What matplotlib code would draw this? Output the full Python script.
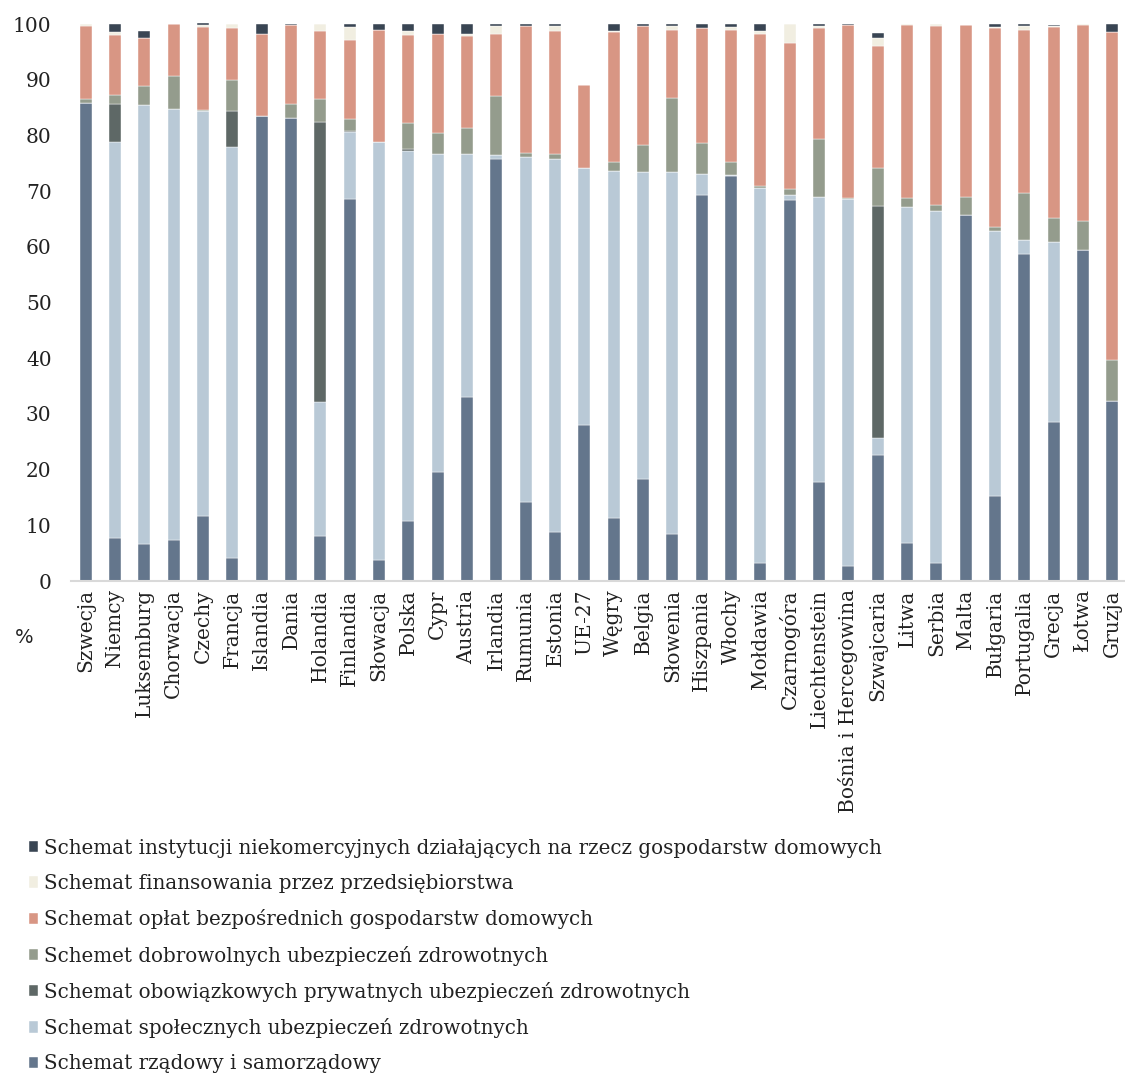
import matplotlib
matplotlib.use("Agg")
import matplotlib.pyplot as plt
import numpy as np

countries = ["Szwecja", "Niemcy", "Luksemburg", "Chorwacja", "Czechy", "Francja",
             "Islandia", "Dania", "Holandia", "Finlandia", "Słowacja", "Polska",
             "Cypr", "Austria", "Irlandia", "Rumunia", "Estonia", "UE-27", "Węgry",
             "Belgia", "Słowenia", "Hiszpania", "Włochy", "Mołdawia", "Czarnogóra",
             "Liechtenstein", "Bośnia i Hercegowina", "Szwajcaria", "Litwa", "Serbia",
             "Malta", "Bułgaria", "Portugalia", "Grecja", "Łotwa", "Gruzja"]

# Shares of health expenditure by financing scheme (%)
rzadowy = [85.9, 7.7, 6.7, 7.3, 11.6, 4.2, 83.5, 83.2, 8.0, 68.6, 3.8, 10.8,
           19.6, 33.0, 75.8, 14.1, 8.8, 28.1, 11.4, 18.3, 8.5, 69.3, 72.7, 3.3,
           68.4, 17.8, 2.7, 22.7, 6.9, 3.2, 65.7, 15.2, 58.7, 28.5, 59.5, 32.4]
spoleczne = [0.0, 71.1, 78.8, 77.5, 72.8, 73.7, 0.0, 0.0, 24.1, 12.1, 75.0, 66.4,
             57.1, 43.6, 0.7, 62.0, 67.0, 46.0, 62.2, 55.2, 65.0, 3.8, 0.2, 67.2,
             0.9, 51.1, 65.8, 3.0, 60.3, 63.2, 0.0, 47.7, 2.6, 32.3, 0.0, 0.0]
obowiazkowe = [0.0, 6.9, 0.0, 0.0, 0.0, 6.4, 0.0, 0.0, 50.4, 0.1, 0.0, 0.3,
               0.0, 0.0, 0.0, 0.0, 0.0, 0.0, 0.0, 0.0, 0.0, 0.0, 0.0, 0.0,
               0.0, 0.0, 0.0, 41.7, 0.0, 0.0, 0.0, 0.0, 0.0, 0.0, 0.0, 0.0]
dobrowolne = [0.7, 1.5, 3.3, 5.8, 0.2, 5.7, 0.0, 2.5, 4.1, 2.2, 0.0, 4.7,
              3.7, 4.8, 10.5, 0.7, 0.8, 0.0, 1.7, 4.7, 13.2, 5.5, 2.4, 0.4,
              1.0, 10.5, 0.3, 6.7, 1.5, 1.1, 3.2, 0.7, 8.3, 4.3, 5.2, 7.3]
oplaty = [13.0, 10.9, 8.7, 9.4, 14.8, 9.3, 14.8, 14.1, 12.1, 14.1, 20.2, 15.9,
          17.9, 16.5, 11.3, 22.9, 22.1, 14.9, 23.2, 21.5, 12.3, 20.7, 23.6, 27.4,
          26.3, 19.8, 31.0, 22.0, 31.1, 32.2, 31.0, 35.6, 29.3, 34.3, 35.1, 58.8]
przedsiebiorstwa = [0.4, 0.5, 0.0, 0.0, 0.4, 0.7, 0.0, 0.0, 1.3, 2.4, 0.0, 0.6,
                    0.0, 0.3, 1.3, 0.0, 0.9, 0.0, 0.3, 0.0, 0.7, 0.0, 0.6, 0.5,
                    3.4, 0.5, 0.0, 1.4, 0.2, 0.3, 0.0, 0.3, 0.8, 0.2, 0.2, 0.0]
niekomercyjne = [0.0, 1.4, 1.2, 0.0, 0.4, 0.0, 1.7, 0.2, 0.0, 0.5, 1.0, 1.3,
                 1.7, 1.8, 0.4, 0.3, 0.4, 0.0, 1.2, 0.3, 0.3, 0.7, 0.5, 1.2,
                 0.0, 0.3, 0.2, 0.9, 0.0, 0.0, 0.0, 0.5, 0.3, 0.2, 0.0, 1.5]

series = [
    ("Schemat rządowy i samorządowy", rzadowy, "#64768c"),
    ("Schemat społecznych ubezpieczeń zdrowotnych", spoleczne, "#b9c9d6"),
    ("Schemat obowiązkowych prywatnych ubezpieczeń zdrowotnych", obowiazkowe, "#5e6866"),
    ("Schemet dobrowolnych ubezpieczeń zdrowotnych", dobrowolne, "#949c8d"),
    ("Schemat opłat bezpośrednich gospodarstw domowych", oplaty, "#d89684"),
    ("Schemat finansowania przez przedsiębiorstwa", przedsiebiorstwa, "#f1eee1"),
    ("Schemat instytucji niekomercyjnych działających na rzecz gospodarstw domowych",
     niekomercyjne, "#394553"),
]

plt.rcParams["font.family"] = ["DejaVu Serif"]
text_color = "#222222"

fig = plt.figure(figsize=(11.25, 10.73), dpi=100)
ax = fig.add_axes([0.0631, 0.4585, 0.9387, 0.5191])

x = np.arange(len(countries))
bottom = np.zeros(len(countries))
handles = []
for label, vals, color in series:
    vals = np.array(vals)
    b = ax.bar(x, vals, width=0.41, bottom=bottom, color=color, label=label,
               edgecolor="white", linewidth=0.3, clip_on=False)
    handles.append(b)
    bottom += vals

ax.set_xlim(-0.5, len(countries) - 0.5)
ax.set_ylim(0, 100)
ax.set_yticks(np.arange(0, 101, 10))
ax.set_xticks(x)
ax.set_xticklabels(countries, rotation=90, fontsize=14.5, color=text_color)
ax.tick_params(axis="y", length=0, pad=14, labelsize=14.5, labelcolor=text_color)
ax.tick_params(axis="x", length=0, pad=6)
for side in ("left", "right", "top"):
    ax.spines[side].set_visible(False)
ax.spines["bottom"].set_color("#d9d9d9")
ax.spines["bottom"].set_linewidth(1.5)

fig.text(0.013, 0.406, "%", fontsize=14, family="DejaVu Sans", color=text_color,
         ha="left", va="center")

leg = fig.legend(handles[::-1], [s[0] for s in series][::-1],
                 loc="upper left", bbox_to_anchor=(0.0165, 0.2275),
                 frameon=False, fontsize=14.35, handlelength=0.5, handleheight=0.5,
                 handletextpad=0.3, labelspacing=0.815, borderpad=0)
for t in leg.get_texts():
    t.set_color(text_color)

fig.savefig("out.png", dpi=100)
